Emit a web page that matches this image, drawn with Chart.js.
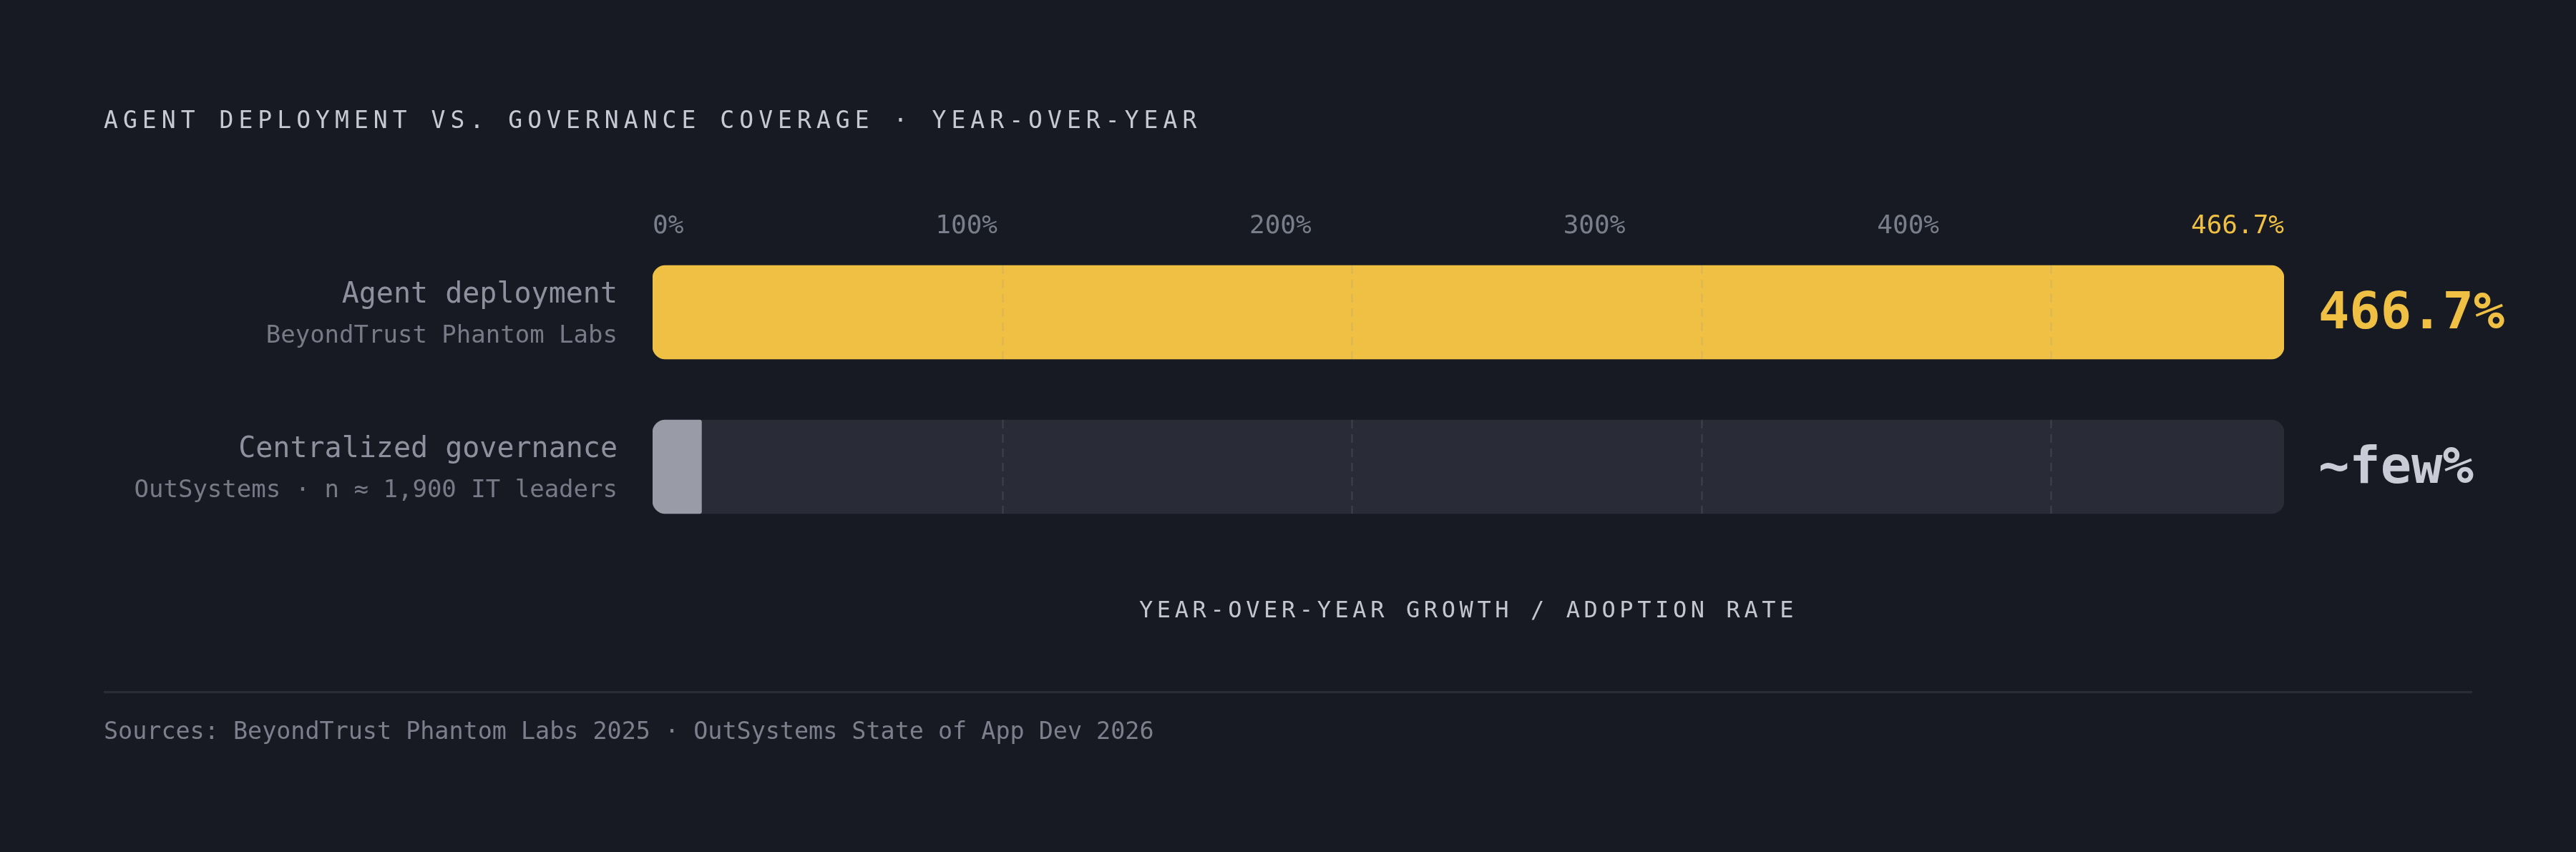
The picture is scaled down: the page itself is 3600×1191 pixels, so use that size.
<!DOCTYPE html>
<html>
<head>
<meta charset="utf-8">
<script src="https://cdn.jsdelivr.net/npm/chart.js@4.4.1/dist/chart.umd.min.js"></script>
<style>
  html, body { margin: 0; padding: 0; background: #171a23; }
  body { width: 3600px; height: 1191px; position: relative; overflow: hidden; font-family: "DejaVu Sans Mono", "Liberation Mono", monospace; }
  #chart { position: absolute; left: 0; top: 0; }
  .txt { position: absolute; line-height: 1; white-space: nowrap; }
  #title { left: 145px; top: 151px; font-size: 33px; letter-spacing: 7.05px; color: #c6c9d4; }
  #axisTitle { left: 912px; width: 2280px; top: 836px; font-size: 32px; letter-spacing: 5.6px; color: #c3c6d0; text-align: center; padding-left: 0; }
  #rule { position: absolute; left: 145px; top: 966px; width: 3310px; height: 3px; background: #2a2c38; }
  #sources { left: 145px; top: 1005px; font-size: 33.4px; color: #7d808c; }
</style>
</head>
<body>
<canvas id="chart" width="3600" height="1191"></canvas>
<div class="txt" id="title">AGENT DEPLOYMENT VS. GOVERNANCE COVERAGE · YEAR-OVER-YEAR</div>
<div class="txt" id="axisTitle">YEAR-OVER-YEAR GROWTH / ADOPTION RATE</div>
<div id="rule"></div>
<div class="txt" id="sources">Sources: BeyondTrust Phantom Labs 2025 · OutSystems State of App Dev 2026</div>
<script>
// ================== DATA ==================
const categories = ['Agent deployment', 'Centralized governance'];
const sourceNotes = ['BeyondTrust Phantom Labs', 'OutSystems · n ≈ 1,900 IT leaders'];
const growthValues = [466.7, 14];
const valueLabels = ['466.7%', '~few%'];
const axisMax = 466.7;
const gridValues = [100, 200, 300, 400];
const tickLabels = ['0%', '100%', '200%', '300%', '400%', '466.7%'];

// ================== STYLE ==================
const MONO = '"DejaVu Sans Mono", "Liberation Mono", monospace';
const YELLOW = '#efc043';
const FILL_GRAY = '#999ca7';
const TRACK = '#292b37';

// labels left of the bars, values right of them, top tick row, dashed grid inside tracks
const decorPlugin = {
  id: 'decor',
  afterDatasetsDraw(chart) {
    const ctx = chart.ctx;
    const area = chart.chartArea;
    const xScale = chart.scales.x;
    const trackMeta = chart.getDatasetMeta(1);

    // dashed gridlines, only inside each track
    ctx.save();
    ctx.strokeStyle = 'rgba(140, 145, 160, 0.22)';
    ctx.lineWidth = 2;
    ctx.setLineDash([12, 8]);
    trackMeta.data.forEach(bar => {
      const { y, height } = bar.getProps(['y', 'height'], true);
      gridValues.forEach(v => {
        const x = Math.round(xScale.getPixelForValue(v)) + 0.5;
        ctx.beginPath();
        ctx.moveTo(x, y - height / 2);
        ctx.lineTo(x, y + height / 2);
        ctx.stroke();
      });
    });
    ctx.restore();

    // top tick labels, spread edge to edge
    ctx.save();
    ctx.font = '36px ' + MONO;
    ctx.textBaseline = 'alphabetic';
    ctx.textAlign = 'left';
    const widths = tickLabels.map(t => ctx.measureText(t).width);
    const total = widths.reduce((a, b) => a + b, 0);
    const gap = (area.right - area.left - total) / (tickLabels.length - 1);
    let tx = area.left;
    tickLabels.forEach((t, i) => {
      ctx.fillStyle = i === tickLabels.length - 1 ? YELLOW : '#7a7e8a';
      ctx.fillText(t, tx, area.top - 3);
      tx += widths[i] + gap;
    });
    ctx.restore();

    // row labels and value labels
    ctx.save();
    ctx.textBaseline = 'alphabetic';
    trackMeta.data.forEach((bar, i) => {
      const { y } = bar.getProps(['y'], true);
      ctx.textAlign = 'right';
      ctx.font = '40px ' + MONO;
      ctx.fillStyle = '#8e919d';
      ctx.fillText(categories[i], area.left - 49, y - 14);
      ctx.font = '34px ' + MONO;
      ctx.fillStyle = '#787b87';
      ctx.fillText(sourceNotes[i], area.left - 49, y + 42);

      ctx.textAlign = 'left';
      ctx.font = 'bold 72px ' + MONO;
      ctx.fillStyle = i === 0 ? YELLOW : '#c9ccd6';
      ctx.fillText(valueLabels[i], area.right + 48, y + 22);
    });
    ctx.restore();
  }
};

new Chart(document.getElementById('chart'), {
  type: 'bar',
  data: {
    labels: categories,
    datasets: [
      {
        data: growthValues,
        backgroundColor: growthValues.map((v, i) => i === 0 ? YELLOW : FILL_GRAY),
        borderRadius: growthValues.map((v, i) => i === 0
          ? 18
          : { topLeft: 18, bottomLeft: 18, topRight: 3, bottomRight: 3 }),
        borderSkipped: false,
        grouped: false,
        barThickness: 131,
        order: 1
      },
      {
        data: categories.map(() => axisMax),
        backgroundColor: TRACK,
        borderRadius: 18,
        borderSkipped: false,
        grouped: false,
        barThickness: 131,
        order: 2
      }
    ]
  },
  options: {
    indexAxis: 'y',
    responsive: false,
    devicePixelRatio: 1,
    animation: false,
    layout: { padding: { left: 912, right: 408, top: 328.5, bottom: 430.5 } },
    scales: {
      x: { type: 'linear', min: 0, max: axisMax, display: false },
      y: { type: 'category', display: false }
    },
    plugins: {
      legend: { display: false },
      tooltip: { enabled: false }
    }
  },
  plugins: [decorPlugin]
});
</script>
</body>
</html>
